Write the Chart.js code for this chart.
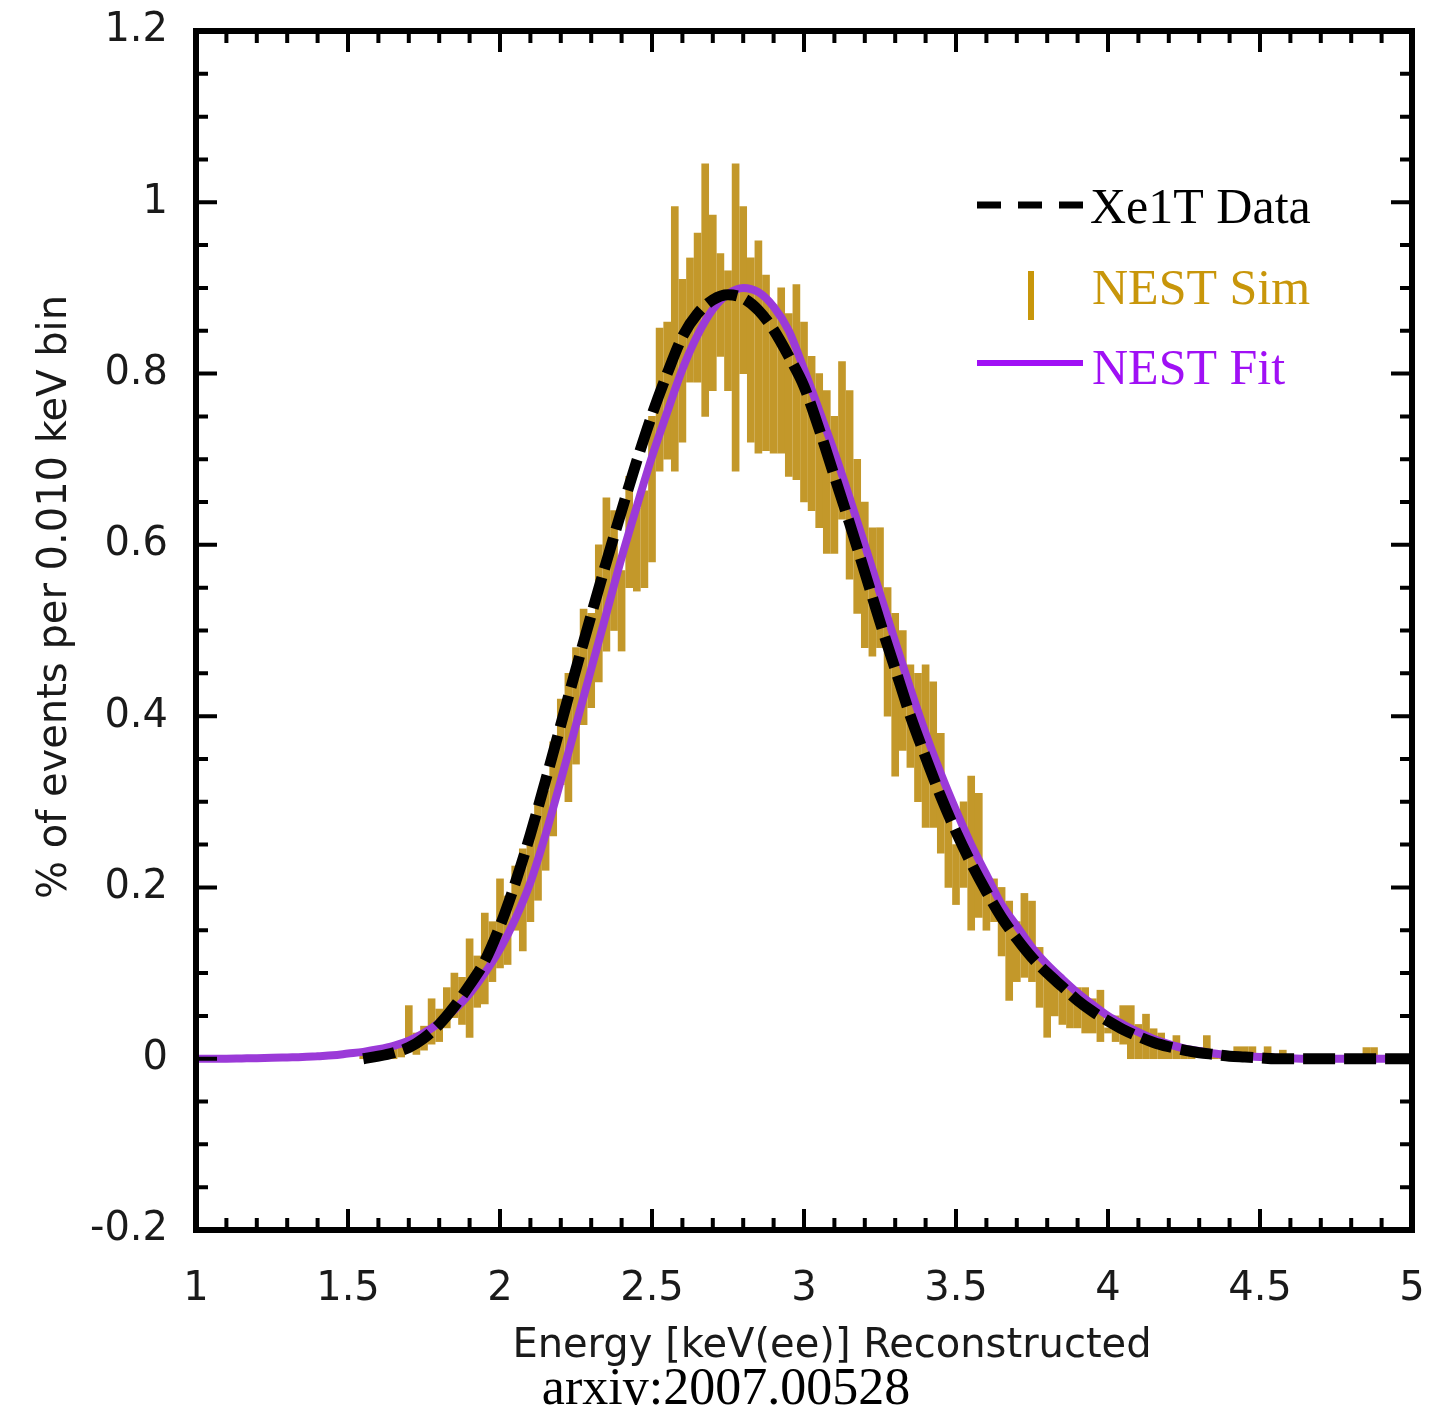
<!DOCTYPE html>
<html>
<head>
<meta charset="utf-8">
<script src="https://cdn.jsdelivr.net/npm/chart.js@4.4.0/dist/chart.umd.min.js"></script>
<style>
html, body { margin: 0; padding: 0; background: #fff; }
canvas { display: block; }
</style>
</head>
<body>
<canvas id="chart" width="1438" height="1414"></canvas>
<script>
// NEST Sim histogram, each bin drawn as a vertical bar from lo to hi
const simX = [
  1.550, 1.575, 1.600, 1.625, 1.650, 1.675, 1.700, 1.725, 1.750, 1.775,
  1.800, 1.825, 1.850, 1.875, 1.900, 1.925, 1.950, 1.975, 2.000, 2.025,
  2.050, 2.075, 2.100, 2.125, 2.150, 2.175, 2.200, 2.225, 2.250, 2.275,
  2.300, 2.325, 2.350, 2.375, 2.400, 2.425, 2.450, 2.475, 2.500, 2.525,
  2.550, 2.575, 2.600, 2.625, 2.650, 2.675, 2.700, 2.725, 2.750, 2.775,
  2.800, 2.825, 2.850, 2.875, 2.900, 2.925, 2.950, 2.975, 3.000, 3.025,
  3.050, 3.075, 3.100, 3.125, 3.150, 3.175, 3.200, 3.225, 3.250, 3.275,
  3.300, 3.325, 3.350, 3.375, 3.400, 3.425, 3.450, 3.475, 3.500, 3.525,
  3.550, 3.575, 3.600, 3.625, 3.650, 3.675, 3.700, 3.725, 3.750, 3.775,
  3.800, 3.825, 3.850, 3.875, 3.900, 3.925, 3.950, 3.975, 4.000, 4.025,
  4.050, 4.075, 4.100, 4.125, 4.150, 4.175, 4.200, 4.225, 4.250, 4.275,
  4.300, 4.325, 4.350, 4.375, 4.400, 4.425, 4.450, 4.475, 4.500, 4.525,
  4.550, 4.575, 4.600, 4.850, 4.875
];
const simLo = [
  0, 0, 0, 0, 0, 0.002, 0.008, 0.005, 0.010, 0.017,
  0.020, 0.036, 0.048, 0.040, 0.025, 0.060, 0.064, 0.090, 0.106, 0.110,
  0.150, 0.126, 0.160, 0.185, 0.220, 0.260, 0.320, 0.300, 0.344, 0.390,
  0.410, 0.440, 0.476, 0.500, 0.476, 0.550, 0.546, 0.550, 0.580, 0.686,
  0.700, 0.686, 0.720, 0.790, 0.790, 0.750, 0.780, 0.820, 0.780, 0.686,
  0.800, 0.720, 0.707, 0.710, 0.707, 0.707, 0.680, 0.676, 0.650, 0.640,
  0.620, 0.590, 0.590, 0.630, 0.560, 0.520, 0.480, 0.470, 0.480, 0.400,
  0.330, 0.360, 0.340, 0.300, 0.270, 0.270, 0.240, 0.200, 0.180, 0.200,
  0.150, 0.165, 0.150, 0.160, 0.120, 0.068, 0.090, 0.095, 0.090, 0.060,
  0.025, 0.050, 0.040, 0.036, 0.036, 0.030, 0.030, 0.020, 0.030, 0.020,
  0.017, 0, 0, 0, 0, 0, 0, 0, 0, 0,
  0.002, 0.010, 0, 0, 0, 0.002, 0.002, 0.002, 0, 0.002,
  0, 0.002, 0, 0.003, 0.003
];
const simHi = [
  0.006, 0.008, 0.010, 0.012, 0.015, 0.020, 0.062, 0.030, 0.038, 0.070,
  0.058, 0.083, 0.100, 0.095, 0.140, 0.120, 0.170, 0.160, 0.210, 0.190,
  0.225, 0.245, 0.265, 0.300, 0.313, 0.370, 0.420, 0.450, 0.480, 0.525,
  0.520, 0.600, 0.655, 0.640, 0.570, 0.680, 0.643, 0.663, 0.750, 0.853,
  0.860, 0.995, 0.910, 0.935, 0.964, 1.045, 0.985, 0.940, 0.920, 1.045,
  0.995, 0.935, 0.955, 0.915, 0.880, 0.900, 0.870, 0.904, 0.860, 0.820,
  0.800, 0.780, 0.750, 0.814, 0.780, 0.700, 0.650, 0.620, 0.620, 0.550,
  0.520, 0.500, 0.460, 0.450, 0.460, 0.440, 0.380, 0.300, 0.250, 0.300,
  0.330, 0.310, 0.210, 0.210, 0.200, 0.184, 0.160, 0.193, 0.184, 0.130,
  0.106, 0.100, 0.090, 0.083, 0.083, 0.083, 0.070, 0.080, 0.036, 0.050,
  0.062, 0.062, 0.040, 0.052, 0.035, 0.030, 0.015, 0.027, 0.010, 0.012,
  0.010, 0.027, 0.006, 0.005, 0.005, 0.014, 0.014, 0.014, 0.006, 0.014,
  0.005, 0.010, 0.004, 0.013, 0.013
];

// NEST Fit (purple, solid)
const fitX = [
  1.00, 1.05, 1.10, 1.15, 1.20, 1.25, 1.30, 1.35, 1.40, 1.45,
  1.50, 1.55, 1.60, 1.65, 1.70, 1.75, 1.80, 1.85, 1.90, 1.95,
  2.00, 2.05, 2.10, 2.15, 2.20, 2.25, 2.30, 2.35, 2.40, 2.45,
  2.50, 2.55, 2.60, 2.65, 2.70, 2.75, 2.80, 2.85, 2.90, 2.95,
  3.00, 3.05, 3.10, 3.15, 3.20, 3.25, 3.30, 3.35, 3.40, 3.45,
  3.50, 3.55, 3.60, 3.65, 3.70, 3.75, 3.80, 3.85, 3.90, 3.95,
  4.00, 4.05, 4.10, 4.15, 4.20, 4.25, 4.30, 4.35, 4.40, 4.45,
  4.50, 4.55, 4.60, 4.65, 4.70, 4.75, 4.80, 4.85, 4.90, 4.95,
  5.00
];
const fitY = [
  0, 0, 0, 0.0003, 0.0006, 0.001, 0.0015, 0.002, 0.003, 0.004,
  0.006, 0.008, 0.011, 0.015, 0.021, 0.030, 0.042, 0.057, 0.076, 0.100,
  0.128, 0.163, 0.206, 0.262, 0.325, 0.390, 0.455, 0.520, 0.585, 0.645,
  0.703, 0.755, 0.805, 0.845, 0.875, 0.893, 0.900, 0.895, 0.878, 0.850,
  0.805, 0.757, 0.708, 0.655, 0.600, 0.543, 0.487, 0.432, 0.380, 0.333,
  0.290, 0.250, 0.215, 0.180, 0.155, 0.130, 0.110, 0.093, 0.077, 0.063,
  0.050, 0.040, 0.031, 0.023, 0.017, 0.012, 0.009, 0.006, 0.004, 0.003,
  0.002, 0.001, 0.0005, 0, 0, 0, 0, 0, 0, 0,
  0
];

// Xe1T Data (black, dashed)
const dataX = [
  1.55, 1.60, 1.65, 1.70, 1.75, 1.80, 1.85, 1.90, 1.95, 2.00,
  2.05, 2.10, 2.15, 2.20, 2.25, 2.30, 2.35, 2.40, 2.45, 2.50,
  2.55, 2.60, 2.65, 2.70, 2.75, 2.80, 2.85, 2.90, 2.95, 3.00,
  3.05, 3.10, 3.15, 3.20, 3.25, 3.30, 3.35, 3.40, 3.45, 3.50,
  3.55, 3.60, 3.65, 3.70, 3.75, 3.80, 3.85, 3.90, 3.95, 4.00,
  4.05, 4.10, 4.15, 4.20, 4.25, 4.30, 4.35, 4.40, 4.45, 4.50,
  4.55, 4.60, 4.65, 4.70, 4.75, 4.80, 4.85, 4.90, 4.95, 5.00
];
const dataY = [
  0.000, 0.003, 0.007, 0.013, 0.024, 0.040, 0.061, 0.086, 0.114, 0.155,
  0.205, 0.262, 0.325, 0.390, 0.455, 0.518, 0.580, 0.640, 0.698, 0.752,
  0.800, 0.843, 0.870, 0.886, 0.892, 0.888, 0.874, 0.851, 0.820, 0.785,
  0.735, 0.680, 0.625, 0.568, 0.510, 0.455, 0.400, 0.352, 0.306, 0.265,
  0.228, 0.195, 0.165, 0.140, 0.118, 0.100, 0.084, 0.068, 0.055, 0.044,
  0.034, 0.026, 0.019, 0.014, 0.010, 0.007, 0.005, 0.003, 0.002, 0.001,
  0, 0, 0, 0, 0, 0, 0, 0, 0, 0
];

const GOLD = '#c3982a';
const PURPLE = '#9b3ad8';
const AXIS_FONT = 'DejaVu Sans';
const SERIF = 'Liberation Serif';

// box with inward ticks on all four sides, titles and the hand-placed legend
const frame = {
  id: 'frame',
  afterDatasetsDraw(chart) {
    const {ctx, chartArea: a, scales: {x, y}} = chart;
    ctx.save();
    ctx.strokeStyle = '#000';
    ctx.lineWidth = 4;
    ctx.beginPath();
    for (let i = 0; i <= 40; i++) {
      const px = x.getPixelForValue(1 + i * 0.1);
      const len = i % 5 === 0 ? 21 : 12;
      ctx.moveTo(px, a.bottom); ctx.lineTo(px, a.bottom - len);
      ctx.moveTo(px, a.top); ctx.lineTo(px, a.top + len);
    }
    for (let i = 0; i <= 28; i++) {
      const py = y.getPixelForValue(-0.2 + i * 0.05);
      const len = i % 4 === 0 ? 21 : 12;
      ctx.moveTo(a.left, py); ctx.lineTo(a.left + len, py);
      ctx.moveTo(a.right, py); ctx.lineTo(a.right - len, py);
    }
    ctx.stroke();
    ctx.lineWidth = 6;
    ctx.strokeRect(a.left, a.top, a.right - a.left, a.bottom - a.top);
    ctx.restore();
  },
  afterDraw(chart) {
    const ctx = chart.ctx;
    ctx.save();
    // axis titles
    ctx.fillStyle = '#1a1a1a';
    ctx.font = '40px "' + AXIS_FONT + '"';
    ctx.textAlign = 'center';
    ctx.textBaseline = 'alphabetic';
    ctx.fillText('Energy [keV(ee)] Reconstructed', 832, 1357);
    ctx.save();
    ctx.translate(66, 597);
    ctx.rotate(-Math.PI / 2);
    ctx.fillText('% of events per 0.010 keV bin', 0, 0);
    ctx.restore();
    ctx.fillStyle = '#000';
    ctx.font = '52px "' + SERIF + '"';
    ctx.fillText('arxiv:2007.00528', 726, 1404);

    // legend
    ctx.textAlign = 'left';
    ctx.font = '50px "' + SERIF + '"';
    ctx.fillStyle = '#000';
    ctx.fillText('Xe1T Data', 1090, 223);
    ctx.fillStyle = '#c8960a';
    ctx.fillText('NEST Sim', 1092, 304);
    ctx.fillStyle = '#a010f5';
    ctx.fillText('NEST Fit', 1092, 384);

    ctx.strokeStyle = '#000';
    ctx.lineWidth = 7;
    ctx.setLineDash([24, 17]);
    ctx.beginPath(); ctx.moveTo(977, 205); ctx.lineTo(1084, 205); ctx.stroke();
    ctx.setLineDash([]);
    ctx.fillStyle = '#c8960a';
    ctx.fillRect(1028, 271, 6, 49);
    ctx.strokeStyle = '#a010f5';
    ctx.lineWidth = 6;
    ctx.beginPath(); ctx.moveTo(977, 363); ctx.lineTo(1083, 363); ctx.stroke();
    ctx.restore();
  }
};

const tickFont = { family: AXIS_FONT, size: 40 };
// 1.0 -> "1", -0.0 -> "0"
function shortLabel(v) {
  const r = Math.round(v * 10) / 10;
  return String(r === 0 ? 0 : r);
}
function noOverflow(s) {
  s.paddingLeft = 0; s.paddingRight = 0; s.paddingTop = 0; s.paddingBottom = 0;
}

new Chart(document.getElementById('chart'), {
  data: {
    datasets: [
      {
        type: 'line',
        label: 'Xe1T Data',
        data: dataX.map((x, i) => ({ x: x, y: dataY[i] })),
        borderColor: '#000',
        borderWidth: 11,
        borderDash: [32, 9],
        borderCapStyle: 'butt',
        borderJoinStyle: 'round',
        pointRadius: 0,
        cubicInterpolationMode: 'monotone',
        order: 1
      },
      {
        type: 'line',
        label: 'NEST Fit',
        data: fitX.map((x, i) => ({ x: x, y: fitY[i] })),
        borderColor: PURPLE,
        borderWidth: 8,
        pointRadius: 0,
        cubicInterpolationMode: 'monotone',
        order: 2
      },
      {
        type: 'bar',
        label: 'NEST Sim',
        data: simX.map((x, i) => ({ x: x, y: [simLo[i], simHi[i]] })),
        backgroundColor: GOLD,
        borderWidth: 0,
        barThickness: 7,
        order: 3
      }
    ]
  },
  options: {
    responsive: false,
    animation: false,
    devicePixelRatio: 1,
    layout: { padding: { top: 31, right: 26, left: 0, bottom: 0 } },
    plugins: { legend: { display: false }, tooltip: { enabled: false } },
    scales: {
      x: {
        type: 'linear',
        min: 1, max: 5,
        offset: false,
        grid: { display: false },
        border: { display: false },
        ticks: { stepSize: 0.5, padding: 28, font: tickFont, color: '#1a1a1a', maxRotation: 0, callback: shortLabel },
        afterFit(s) { s.height = 184; noOverflow(s); }
      },
      y: {
        type: 'linear',
        min: -0.2, max: 1.2,
        grid: { display: false },
        border: { display: false },
        ticks: { stepSize: 0.2, padding: 20, font: tickFont, color: '#1a1a1a', callback: shortLabel },
        afterFit(s) { s.width = 196; noOverflow(s); }
      }
    }
  },
  plugins: [frame]
});
</script>
</body>
</html>
